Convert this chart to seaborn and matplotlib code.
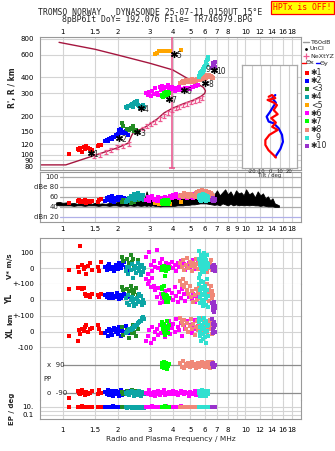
import matplotlib
matplotlib.use("Agg")
import matplotlib.pyplot as plt
import numpy as np
import pandas as pd
import seaborn as sns

# ---------------- data ----------------
FREQ_TICKS = [1, 1.5, 2, 3, 4, 5, 6, 7, 8, 9, 10, 12, 14, 16, 18]
TOP_LABELS = ['1', '1.5', '2', '3', '4', '5', '6', '7', '8', '', '10', '12', '14', '16', '18']
MID_LABELS = ['1', '1.5', '2', '3', '4', '5', '6', '7', '8', '9', '10', '12', '14', '16', '18']
HEIGHT_TICKS = [80, 90, 100, 120, 150, 200, 300, 400, 600, 800]

# model / profile curve (MHz, km)
CURVE_F = [0.75, 1.04, 1.48, 2.0, 2.29, 2.38, 2.45, 2.75, 2.91, 3.3, 3.6, 4.0, 4.6, 5.2, 5.7, 6.0,
           6.05, 5.9, 5.5, 5.0, 4.0, 3.0, 2.0, 1.5, 0.955]
CURVE_H = [83, 83, 98, 113, 123, 140, 150, 160, 168, 190, 212, 230, 250, 266, 284, 300,
           315, 335, 355, 382, 459, 517, 600, 665, 753]
# NeXtYZ points
NEX_F = [1.48, 1.60, 1.72, 1.85, 1.99, 2.15, 2.30, 2.75, 2.90, 3.05, 3.22, 3.40, 3.58, 3.77, 3.97,
         4.15, 4.33, 4.55, 4.80, 5.05, 5.30, 5.55, 5.80]
NEX_H = [97, 100, 104, 109, 114, 117, 121, 160, 166, 173, 181, 190, 199, 210, 222,
         229, 236, 242, 248, 255, 262, 268, 275]
FOF2_LINE = 3.95

# echo clusters: f MHz, h km, db, V* m/s, YL km, XL km, PP deg, EP deg
E1 = dict(f=[1.08, 1.21, 1.23, 1.25, 1.28, 1.30, 1.33, 1.35, 1.38, 1.41, 1.44, 1.56, 1.59, 1.62],
          h=[101, 110, 108, 112, 105, 114, 111, 116, 113, 111, 109, 117, 118, 119],
          db=[49, 52, 54, 50, 53, 51, 55, 49, 52, 50, 53, 51, 55, 56],
          v=[-12, 10, -25, 138, 20, -5, 5, -40, 15, 30, -10, 10, -15, 40],
          yl=[67, 75, 78, 72, 70, 76, 35, 25, 30, 20, 38, 30, 20, 35],
          xl=[-27, -60, 10, -15, 20, 5, 30, 40, -5, 15, 25, 45, 20, -10],
          pp=[-120, -75, -85, -95, -70, -90, -100, -80, -95, -88, -78, -92, -72, -85],
          ep=[9, 11, 10, 10, 12, 9, 10, 11, 10, 9, 10, 11, 10, 9])
E2 = dict(f=[1.71, 1.74, 1.77, 1.80, 1.83, 1.86, 1.89, 1.92, 1.95, 1.98, 2.01, 2.03, 2.06, 2.08, 2.11, 2.18, 2.22, 2.27],
          h=[127, 131, 128, 133, 135, 132, 138, 136, 141, 139, 145, 156, 148, 159, 151, 147, 152, 141],
          db=[52, 58, 55, 60, 53, 62, 56, 51, 59, 54, 61, 57, 55, 60, 52, 58, 54, 56],
          v=[5, -10, 15, 25, -5, 10, 0, -15, 20, 8, -8, 30, 12, -2, 18, 40, 5, -12],
          yl=[30, 20, 40, 15, 25, 35, 10, 28, 18, 42, 22, 8, 30, 15, 25, 35, 12, 20],
          xl=[-10, 5, -25, 15, 0, -20, 10, 25, -5, 20, -15, 30, 5, -30, 15, 0, 35, -10],
          pp=[-80, -95, -70, -100, -85, -75, -105, -90, -78, -96, -82, -110, -88, -72, -98, -84, -92, -76],
          ep=[10, 9, 11, 10, 9, 10, 12, 10, 9, 11, 10, 9, 10, 11, 9, 10, 10, 11])
E3 = dict(f=[2.12, 2.14, 2.25, 2.30, 2.36, 2.40, 2.42, 2.47, 2.52, 2.58],
          h=[176, 166, 158, 155, 160, 157, 168, 153, 156, 151],
          db=[50, 55, 52, 58, 48, 56, 53, 50, 57, 54],
          v=[70, 45, 55, 35, 80, 40, 60, 0, -30, 50],
          yl=[80, 60, 70, 55, 85, 65, 40, 50, 75, 30],
          xl=[30, -20, 10, -40, 20, -10, 40, 0, -25, 15],
          pp=[-80, -95, -75, -100, -85, -70, -90, -105, -78, -92],
          ep=[10, 9, 11, 10, 10, 9, 11, 10, 9, 10])
E4 = dict(f=[2.21, 2.24, 2.28, 2.32, 2.36, 2.40, 2.44, 2.47, 2.50, 2.53, 2.56, 2.59, 2.62, 2.65, 2.68, 2.71, 2.74, 2.78],
          h=[236, 232, 240, 238, 245, 249, 236, 253, 256, 250, 260, 244, 240, 234, 238, 231, 242, 236],
          db=[50, 55, 52, 58, 62, 56, 60, 66, 54, 63, 58, 68, 61, 57, 64, 59, 65, 55],
          v=[-20, 10, -40, 5, -10, 25, -60, -5, 15, -30, 0, 30, -15, 8, -45, 20, -25, 3],
          yl=[10, -20, 30, -30, 0, 20, -10, -35, 5, -25, 15, -5, 40, -15, 25, -30, 0, -20],
          xl=[-10, 0, 5, 15, 10, 25, 20, 35, 30, 45, 40, 55, 60, 70, 65, 85, 95, 80],
          pp=[-85, -95, -80, -100, -90, -75, -88, -110, -92, -82, -98, -86, -78, -94, -104, -84, -90, -96],
          ep=[8, 6, 9, 7, 10, 6, 8, 7, 9, 6, 8, 7, 10, 6, 7, 9, 8, 6])
E5 = dict(f=[3.22, 3.30, 3.38, 3.48, 3.60, 3.72, 3.85, 4.45],
          h=[612, 625, 640, 648, 640, 645, 640, 652],
          db=[48, 50, 47, 52, 49, 51, 46, 50])
E6 = dict(f=[2.86, 2.92, 2.98, 3.04, 3.10, 3.16, 3.22, 3.28, 3.34, 3.40, 3.46, 3.52, 3.58, 3.64, 3.70, 3.76, 3.82, 3.88,
             3.95, 4.02, 4.10, 4.18, 4.26, 4.34, 4.42, 4.50, 4.60, 4.70, 4.80, 4.90, 5.00, 5.10, 5.20, 5.30, 5.40, 5.50],
          h=[300, 292, 308, 285, 315, 298, 332, 305, 290, 340, 318, 345, 322, 335, 310, 350, 328, 318,
             340, 325, 315, 332, 320, 336, 318, 328, 322, 330, 325, 334, 328, 338, 335, 342, 345, 350],
          db=[55, 60, 52, 58, 62, 54, 57, 53, 60, 56, 52, 58, 54, 61, 56, 59, 55, 63,
              58, 65, 60, 66, 62, 58, 64, 60, 67, 62, 58, 65, 61, 63, 59, 66, 62, 60],
          v=[70, -35, 100, 20, -20, 45, 10, 115, 0, 30, -10, 60, 15, 5, 35, -5, 25, 10,
             40, 0, 20, -15, 30, 10, 45, 5, 25, -10, 15, 35, 0, 20, 50, 10, -5, 30],
          yl=[130, 100, 120, 80, 140, 90, 60, 20, 75, -20, 40, 10, -10, 55, 30, -5, 65, 15,
              45, 0, 80, 25, -15, 50, 10, 70, 35, -5, 60, 20, 85, 5, 40, -10, 25, 50],
          xl=[-60, -30, 10, -70, 30, -45, 0, 20, -20, 45, -10, 60, 15, -35, 35, 5, 70, -15,
              25, 50, -5, 80, 30, 10, 55, -25, 40, 20, 65, 0, 45, -10, 30, 75, 15, 35],
          pp=[-85, -95, -70, -100, -88, -80, -110, -92, -76, -98, -84, -90, -72, -102, -86, -94, -80, -88,
              -96, -78, -92, -84, -100, -86, -74, -90, -96, -82, -88, -104, -80, -92, -86, -78, -98, -90],
          ep=[10, 11, 9, 10, 12, 10, 9, 11, 10, 8, 10, 11, 9, 10, 12, 10, 9, 11,
              10, 8, 10, 9, 11, 10, 12, 9, 10, 11, 8, 10, 9, 11, 10, 10, 9, 11])
E7 = dict(f=[3.48, 3.52, 3.55, 3.58, 3.61, 3.64, 3.67, 3.70, 3.73, 3.76, 3.79, 3.82],
          h=[285, 292, 280, 300, 288, 305, 296, 310, 298, 306, 292, 300],
          db=[48, 52, 46, 55, 50, 47, 53, 49, 51, 46, 54, 50],
          v=[5, -10, 0, 12, -5, -48, 8, -15, 3, -8, 10, -2],
          yl=[80, 70, 35, 20, 85, 10, 30, -10, 25, -15, 5, 15],
          xl=[60, 40, 20, 0, 50, -20, 30, 10, 65, -10, 25, 45],
          pp=[105, 80, 95, 70, 110, 88, 75, 100, 65, 92, 84, 98],
          ep=[10, 8, 11, 9, 10, 12, 9, 8, 10, 11, 9, 10])
E8 = dict(f=[4.40, 4.48, 4.56, 4.64, 4.72, 4.80, 4.88, 4.96, 5.04, 5.12, 5.20, 5.28, 5.36, 5.44, 5.52, 5.60,
             5.68, 5.76, 5.84, 5.92, 6.00, 6.06, 6.12, 6.18, 6.24, 6.30, 6.36, 6.42, 6.48, 6.54, 6.60, 6.66],
          h=[362, 370, 378, 365, 385, 372, 380, 368, 375, 388, 370, 382, 376, 390, 380, 395,
             385, 400, 388, 405, 392, 410, 398, 415, 402, 420, 408, 400, 412, 395, 405, 398],
          db=[62, 65, 60, 68, 63, 66, 61, 64, 67, 62, 65, 60, 68, 70, 64, 72,
              66, 74, 69, 65, 71, 67, 73, 68, 64, 70, 66, 62, 68, 64, 60, 63],
          v=[30, 10, 50, -10, 20, 65, 0, 40, 15, -20, 35, 5, 55, 25, -5, 45,
             10, 30, -15, 20, 60, 5, 40, -25, 15, 35, 0, 25, 50, 10, -10, 20],
          yl=[120, 95, 130, 80, 105, 60, 40, 85, 20, 55, -10, 30, 70, 0, 45, 90,
              15, 110, 35, -15, 75, 50, 5, 100, 25, 65, -5, 40, 85, 10, 55, 30],
          xl=[90, 60, 40, 75, 20, 55, 0, 35, 80, 15, 50, -20, 30, 65, 10, 45,
              85, -10, 25, 60, 5, 40, 70, -5, 30, 55, 15, 75, 20, 45, -15, 35],
          pp=[100, 80, 115, 70, 95, 85, 105, 75, 90, 110, 82, 98, 72, 88, 104, 78,
              94, 108, 84, 96, 76, 102, 90, 86, 112, 80, 98, 74, 92, 106, 88, 96],
          ep=[10, 8, 9, 7, 10, 9, 8, 11, 9, 7, 10, 8, 9, 10, 7, 9,
              8, 11, 9, 10, 8, 7, 9, 10, 8, 9, 11, 8, 10, 7, 9, 8])
E9 = dict(f=[5.55, 5.58, 5.62, 5.65, 5.68, 5.72, 5.75, 5.78, 5.82, 5.85, 5.88, 5.92, 5.95, 5.98, 6.02, 6.05,
             6.08, 6.12, 6.15, 6.18, 6.22, 6.26],
          h=[405, 412, 420, 416, 430, 425, 440, 436, 452, 445, 465, 470, 460, 485, 495, 480,
             510, 525, 505, 545, 560, 580],
          db=[58, 62, 55, 65, 60, 52, 64, 57, 61, 66, 54, 59, 63, 56, 60, 65, 58, 53, 62, 57, 60, 55],
          v=[110, 60, 20, -40, 45, 0, 80, 30, -10, 55, 10, 95, 40, -25, 70, 15, 50, -5, 35, 85, 25, 5],
          yl=[140, 100, 60, 20, -20, 120, 80, 40, 0, -40, 110, 70, 30, -10, 90, 50, 10, -30, 130, 65, 25, -45],
          xl=[90, 60, 30, 0, -30, -60, 75, 45, 15, -15, -45, 85, 55, 25, -5, -35, -70, 65, 35, 5, -25, 40],
          pp=[-75, -85, -95, -105, -80, -90, -100, -70, -88, -110, -82, -92, -78, -98, -86, -74, -94, -104,
              -84, -90, -76, -96],
          ep=[10, 8, 9, 11, 10, 9, 8, 10, 11, 9, 10, 8, 9, 10, 11, 9, 8, 10, 9, 11, 10, 9])
E10 = dict(f=[6.58, 6.62, 6.65, 6.68, 6.72, 6.75, 6.80, 6.85],
           h=[475, 490, 505, 520, 498, 512, 485, 530],
           db=[54, 56, 52, 58, 55, 53, 57, 54],
           v=[5, -10, 15, 0, -5, 20, 8, -15],
           yl=[-20, -40, -60, -30, -75, -10, -50, -35],
           xl=[80, 50, 20, -10, 60, 30, 0, 40],
           pp=[95, 80, 100, 85, 90, 75, 92, 88],
           ep=[10, 9, 10, 11, 9, 10, 10, 9])

CLUSTER_IDS = ['1', '2', '3', '4', '5', '6', '7', '8', '9', '10']
CLUSTER_COLORS = ['#ff0000', '#0000ff', '#228b22', '#0ca5a5', '#ffa500', '#ff00ff',
                  '#00ff00', '#f08878', '#30e0d0', '#9932cc']
LEGEND_TEXT = ['\u27311', '\u27312', '<3', '\u27314', '<5', '\u27316', '\u27317', '\u27318', '  9', '\u273110']
LABEL_F = [1.42, 2.03, 2.56, 2.67, 4.05, 4.6, 3.81, 6.04, 6.25, 6.72]
LABEL_H = [102, 134, 151, 230, 612, 320, 272, 362, 459, 459]

# noise amplitude envelope (MHz, low dB, high dB)
NOISE = [(0.92, 45, 50), (0.96, 44, 51), (1.0, 44, 49), (1.05, 44, 50), (1.1, 44, 48), (1.15, 43, 49),
         (1.2, 44, 47), (1.26, 44, 48), (1.32, 43, 46), (1.38, 44, 48), (1.44, 44, 47), (1.5, 44, 49),
         (1.57, 43, 47), (1.64, 44, 48), (1.72, 44, 47), (1.8, 43, 49), (1.88, 44, 48), (1.96, 44, 50),
         (2.05, 43, 52), (2.14, 44, 49), (2.24, 43, 54), (2.34, 44, 51), (2.45, 43, 56), (2.56, 44, 53),
         (2.68, 43, 58), (2.8, 44, 55), (2.88, 43, 72), (2.95, 44, 60), (3.02, 43, 66), (3.1, 44, 56),
         (3.2, 43, 58), (3.3, 43, 54), (3.42, 42, 60), (3.55, 43, 57), (3.68, 43, 62), (3.82, 43, 58),
         (3.96, 43, 65), (4.1, 43, 60), (4.25, 44, 68), (4.4, 44, 62), (4.56, 44, 66), (4.72, 45, 63),
         (4.9, 45, 70), (5.08, 46, 64), (5.27, 46, 68), (5.46, 47, 66), (5.66, 48, 74), (5.87, 48, 70),
         (6.08, 48, 76), (6.3, 47, 68), (6.53, 46, 72), (6.77, 45, 66), (7.0, 46, 74), (7.25, 44, 64),
         (7.5, 48, 70), (7.76, 46, 76), (8.03, 44, 66), (8.3, 47, 72), (8.6, 44, 62), (8.9, 46, 74),
         (9.2, 44, 68), (9.5, 45, 70), (9.8, 44, 64), (10.1, 45, 76), (10.5, 44, 66), (10.9, 45, 70),
         (11.3, 44, 60), (11.7, 44, 72), (12.1, 43, 64), (12.5, 44, 68), (12.9, 43, 58), (13.3, 42, 62),
         (13.7, 42, 54), (14.1, 42, 58), (14.5, 41, 48), (14.9, 41, 46), (15.3, 41, 44)]

# tilt profiles (deg, km)
TILT_X = [6, 3.6, -2, -5.4, -5.4, -1, 8, 2, 6, 1, 8, 3.6, 7.2, 4, -3, 5.4, 1.8, -1.8]
TILT_X_H = [105, 112, 126, 141, 155, 170, 184, 193, 205, 218, 229, 241, 255, 262, 270, 275, 284, 279]
TILT_Y = [5.4, 11, 13.7, 12.7, 9, 3.6, -1.8, -4, -0.5, 3, 6, 2, 5.4]
TILT_Y_H = [107, 130, 150, 170, 189, 203, 208, 222, 235, 250, 262, 275, 284]

# ---------------- figure ----------------
sns.set_theme(style="white")
plt.rcParams['font.family'] = ['DejaVu Sans']
W, H = 335, 451
fig = plt.figure(figsize=(W / 100, H / 100), dpi=100)
fig.patch.set_facecolor('white')


def rect(x0, y0, x1, y1):
    return [x0 / W, 1 - y1 / H, (x1 - x0) / W, (y1 - y0) / H]


def fy(y):
    return 1 - y / H


GRID = '#d4d4d4'
SPINE = '#999999'
XLIM = (0.751, 20.2)
FS = 5

frames = []
for cid, c, e in zip(CLUSTER_IDS, CLUSTER_COLORS, [E1, E2, E3, E4, E5, E6, E7, E8, E9, E10]):
    d = pd.DataFrame({k: pd.Series(v, dtype=float) for k, v in e.items()})
    d['cid'] = cid
    d['color'] = c
    frames.append(d)
echoes = pd.concat(frames, ignore_index=True)


def style_freq_axis(axx, labels=None, pad=2):
    axx.set_xscale('log')
    axx.set_xlim(*XLIM)
    axx.set_xticks(FREQ_TICKS)
    axx.xaxis.set_minor_locator(matplotlib.ticker.NullLocator())
    if labels is None:
        axx.set_xticklabels([''] * len(FREQ_TICKS))
    else:
        axx.set_xticklabels(labels)
    axx.tick_params(axis='both', length=0, labelsize=FS, pad=pad, colors='black')
    axx.grid(axis='x', color=GRID, lw=0.8)
    axx.set_axisbelow(True)
    for s in axx.spines.values():
        s.set_color(SPINE)
        s.set_linewidth(0.8)


def draw_clusters(axx, ycol, size=4, clip=True):
    for cid, c in zip(CLUSTER_IDS, CLUSTER_COLORS):
        d = echoes[(echoes.cid == cid)].dropna(subset=[ycol])
        if len(d) == 0:
            continue
        sns.scatterplot(data=d, x='f', y=ycol, ax=axx, color=c, marker='s', s=size,
                        linewidth=0, legend=False, clip_on=clip, zorder=3)
    axx.set_xlabel('')
    axx.set_ylabel('')


# ---- ionogram ----
ax = fig.add_axes(rect(40, 37, 301, 170))
style_freq_axis(ax, TOP_LABELS, pad=1.5)
ax.tick_params(labeltop=True, labelbottom=False)
ax.set_yscale('log')
ax.set_ylim(75.7, 829)
ax.set_yticks(HEIGHT_TICKS)
ax.yaxis.set_minor_locator(matplotlib.ticker.NullLocator())
ax.set_yticklabels([str(t) for t in HEIGHT_TICKS])
ax.tick_params(axis='y', pad=4.5)
ax.grid(axis='y', color=GRID, lw=0.8)
sns.lineplot(x=CURVE_F, y=CURVE_H, sort=False, estimator=None, color='#a5163f', lw=1, ax=ax)
ax.errorbar(NEX_F, NEX_H, yerr=np.array(NEX_H) * 0.035, fmt='none', ecolor='#ee5a90',
            elinewidth=0.9, capsize=1.3, capthick=0.9, zorder=2.5)
ax.plot([FOF2_LINE, FOF2_LINE], [79, 829], color='#e8508a', lw=1.1, zorder=2.6)
ax.plot([FOF2_LINE], [79], ls='none', marker='_', ms=5, mew=1.1, color='#e8508a', zorder=2.6)
draw_clusters(ax, 'h', size=7)
for i, (lf, lh) in enumerate(zip(LABEL_F, LABEL_H)):
    if CLUSTER_IDS[i] == '9':
        ax.annotate('9', (lf, lh), ha='center', va='center', fontsize=5.5, zorder=5)
        continue
    ax.scatter([lf], [lh], marker=(6, 2, 0), s=18, color='black', lw=1.0, zorder=5)
    ax.annotate(CLUSTER_IDS[i], (lf, lh), xytext=(2.0, -1.0), textcoords='offset points',
                ha='left', va='center', fontsize=5.5, zorder=5)
ax.set_xlabel('')
ax.set_ylabel('')
fig.text(13 / W, fy(88), "R', R / km", rotation=90, ha='center', va='center',
         fontsize=5.5, fontweight='bold')

# ---- legend at right ----
LFS = 4.6
fig.add_artist(plt.Line2D([303 / W, 309 / W], [fy(42), fy(42)], color='#999999', lw=1))
fig.text(310 / W, fy(42), 'T60dB', fontsize=LFS, va='center')
fig.add_artist(plt.Line2D([306 / W], [fy(49)], marker='.', ms=2, color='black'))
fig.text(310 / W, fy(49), 'UnCl', fontsize=LFS, va='center')
fig.add_artist(plt.Line2D([306 / W], [fy(56)], marker='+', ms=4, mew=0.9, color='#ee5a90'))
fig.text(310 / W, fy(56), 'NeXtYZ', fontsize=LFS, va='center')
fig.add_artist(plt.Line2D([302 / W, 306 / W], [fy(63), fy(63)], color='#ff0000', lw=1))
fig.text(306 / W, fy(63), '\u0398x', fontsize=LFS, va='center')
fig.add_artist(plt.Line2D([316 / W, 320 / W], [fy(63), fy(63)], color='#0000ff', lw=1))
fig.text(320 / W, fy(63), '\u0398y', fontsize=LFS, va='center')
for i, (c, t) in enumerate(zip(CLUSTER_COLORS, LEGEND_TEXT)):
    yy = 72.5 + i * 8.15
    fig.add_artist(plt.Line2D([306.5 / W], [fy(yy)], marker='s', ms=3.3, mew=0, color=c, ls='none'))
    fig.text(311 / W, fy(yy), t, fontsize=5.6, va='center')

# ---- dB panel ----
axd = fig.add_axes(rect(40, 172, 301, 222.3))
style_freq_axis(axd, MID_LABELS, pad=3.0)
axd.set_ylim(10.2, 110.6)
axd.set_yticks([])
x0 = (60 - 40) / 261
for val, col in [(100, '#aaaaaa'), (80, '#aaaaaa'), (60, '#aaaaaa'), (40, '#aaaaaa'), (20, '#b0b0e8')]:
    axd.axhline(val, xmin=x0, xmax=1, color=col, lw=0.9, zorder=1)
for val, lab in [(100, '100'), (80, 'dBe 80'), (60, '60'), (40, '40'), (20, 'dBn 20')]:
    axd.text((59 - 40) / 261, val, lab, transform=axd.get_yaxis_transform(), ha='right',
             va='center', fontsize=FS, zorder=4)
nf = [n[0] for n in NOISE]
nl = [n[1] for n in NOISE]
nh = [n[2] for n in NOISE]
axd.fill_between(nf, nl, nh, color='black', lw=0.6, zorder=2)
draw_clusters(axd, 'db', size=6)

# ---- lower panels ----
bands = [
    ('v', (237.7, 284), (-100, 192), [(100, '100'), (0, '0'), (-100, '+-100')], 'linear'),
    ('yl', (284, 316), (-100, 100), [(0, '0')], 'linear'),
    ('xl', (316, 351), (-123.6, 100), [(100, '+-100'), (0, '0'), (-100, '-100')], 'linear'),
    ('pp', (351, 400), (-132.6, 179), [], 'linear'),
    ('ep', (400, 419), (0.01087, 411), [(10, '10.'), (0.1, '0.1')], 'log'),
]
for i, (col, (ya, yb), ylim, ticks, scale) in enumerate(bands):
    a = fig.add_axes(rect(40, ya, 301, yb))
    last = (i == len(bands) - 1)
    style_freq_axis(a, TOP_LABELS if last else None, pad=5.5)
    a.set_yscale(scale)
    a.set_ylim(*ylim)
    a.yaxis.set_minor_locator(matplotlib.ticker.NullLocator())
    a.set_yticks([t for t, _ in ticks])
    a.set_yticklabels([l for _, l in ticks])
    a.tick_params(axis='y', pad=4.5)
    if i > 0:
        a.spines['top'].set_visible(False)
    if not last:
        a.spines['bottom'].set_visible(False)
    a.patch.set_alpha(0)
    if col == 'pp':
        for val in (90, -90):
            a.axhline(val, xmin=(63 - 40) / 261, xmax=1, color='#8c8c8c', lw=0.9, zorder=1)
        a.text((47 - 40) / 261, 90, 'x  90', transform=a.get_yaxis_transform(), ha='left',
               va='center', fontsize=FS)
        a.text((47 - 40) / 261, -90, 'o  -90', transform=a.get_yaxis_transform(), ha='left',
               va='center', fontsize=FS)
        a.text((43 - 40) / 261, 0, 'PP', transform=a.get_yaxis_transform(), ha='left',
               va='center', fontsize=FS)
    elif col == 'ep':
        for val in (10, 1, 0.1):
            a.axhline(val, color=GRID, lw=0.8, zorder=1)
    else:
        for t, _ in ticks:
            a.axhline(t, color=GRID, lw=0.8, zorder=1)
    draw_clusters(a, col, size=5, clip=False)

fig.text(10 / W, fy(266), 'V* m/s', rotation=90, ha='center', va='center', fontsize=5, fontweight='bold')
fig.text(10 / W, fy(299), 'YL', rotation=90, ha='center', va='center', fontsize=5.5, fontweight='bold')
fig.text(10 / W, fy(319), 'km', rotation=90, ha='center', va='center', fontsize=5, fontweight='bold')
fig.text(10 / W, fy(333), 'XL', rotation=90, ha='center', va='center', fontsize=5.5, fontweight='bold')
fig.text(12 / W, fy(409), 'EP / deg', rotation=90, ha='center', va='center', fontsize=5, fontweight='bold')
fig.text(171 / W, fy(439), 'Radio and Plasma Frequency / MHz', ha='center', va='center', fontsize=5.3)

# ---- tilt inset ----
axt = fig.add_axes(rect(242, 65, 297, 168))
axt.set_facecolor('white')
sns.lineplot(x=TILT_Y, y=TILT_Y_H, sort=False, estimator=None, color='#0000ff', lw=1.6, ax=axt)
sns.lineplot(x=TILT_X, y=TILT_X_H, sort=False, estimator=None, color='#ff0000', lw=1.6, ax=axt)
axt.set_xlim(-30.8, 29)
axt.set_ylim(75, 370)
axt.set_xticks([-20, -10, 0, 10, 20])
axt.set_xticklabels(['-20', '-10', '0', '10', '20'])
axt.set_yticks([])
axt.grid(axis='x', color='#cfcfcf', lw=0.8)
axt.tick_params(length=0, labelsize=3.8, pad=0.6)
for s in axt.spines.values():
    s.set_color('#aaaaaa')
    s.set_linewidth(0.9)
axt.set_xlabel('Tilt / deg', fontsize=3.8, labelpad=-0.3)
axt.set_ylabel('')

# ---- titles ----
fig.text(150 / W, fy(12.3), 'TROMSO NORWAY   DYNASONDE 25-07-11 0150UT 15\u00b0E',
         ha='center', va='center', fontsize=5.85, family='DejaVu Sans Mono')
fig.text(157 / W, fy(20), '8pBP6It DoY= 192.076 File= TR746979.BPG',
         ha='center', va='center', fontsize=5.85, family='DejaVu Sans Mono')
fig.text(302.5 / W, fy(7.2), 'HPTx is OFF!', ha='center', va='center', fontsize=5.9,
         family='DejaVu Sans Mono', color='#ff0000',
         bbox=dict(boxstyle='square,pad=0.25', fc='#ffff00', ec='#ff0000', lw=0.9))

fig.savefig('out.png', dpi=100, facecolor='white')
